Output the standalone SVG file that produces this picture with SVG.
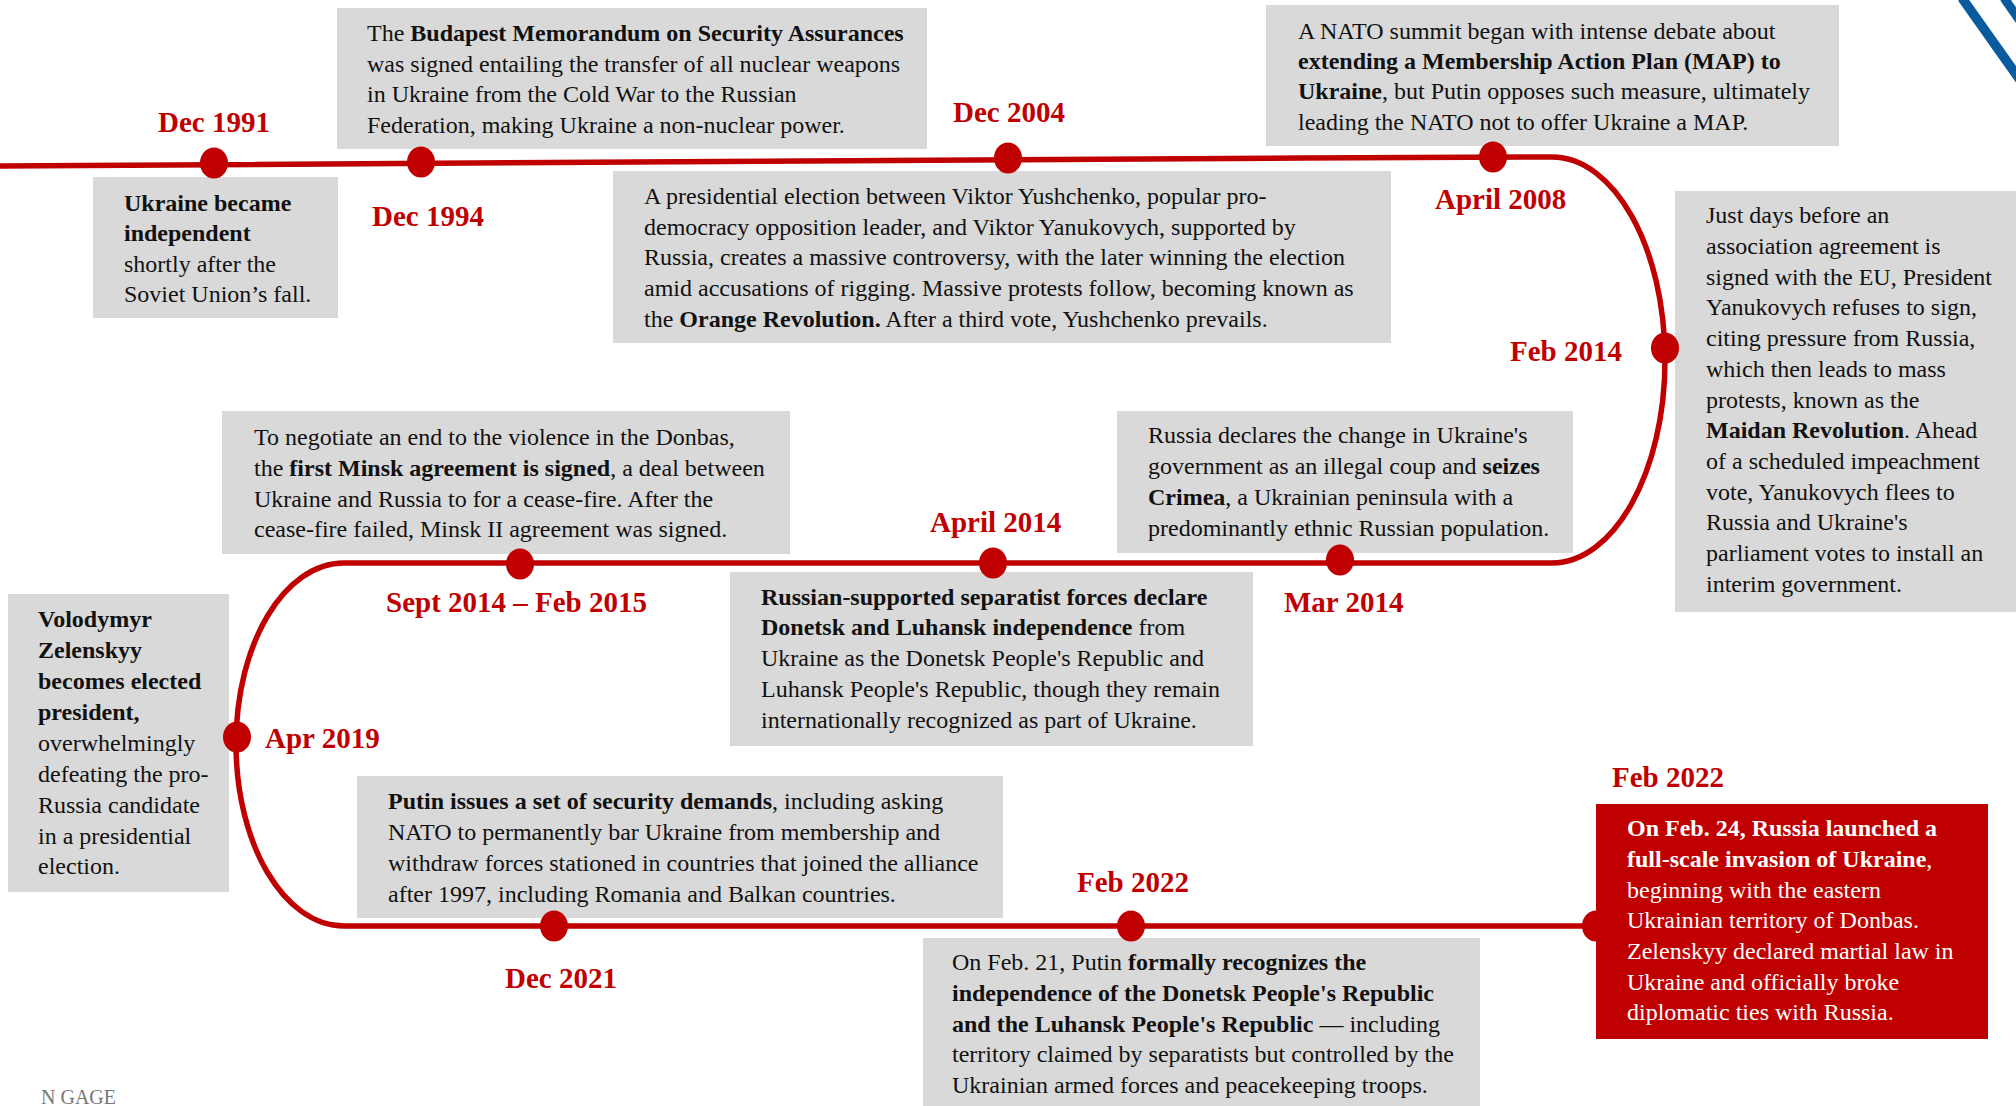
<svg xmlns="http://www.w3.org/2000/svg" width="2016" height="1106" viewBox="0 0 2016 1106">
<style>
.box{fill:#D9D9D9}
.red{fill:#C00000}
.t{font-family:"Liberation Serif","Times New Roman",serif;font-size:24px;fill:#111}
.w{font-family:"Liberation Serif","Times New Roman",serif;font-size:24px;fill:#fff}
.b{font-weight:bold}
.d{font-family:"Liberation Serif","Times New Roman",serif;font-size:29px;font-weight:bold;fill:#C00000}
.dot{fill:#C00000}
.line{fill:none;stroke:#C00000;stroke-width:5.5}
</style>
<rect width="2016" height="1106" fill="#fff"/>
<g id="decor">
<line x1="1962" y1="-2" x2="2020" y2="80" stroke="#0A5A9E" stroke-width="9.5"/>
<line x1="2004" y1="-2" x2="2030" y2="35" stroke="#0A5A9E" stroke-width="9"/>
<text x="41" y="1104" font-family="Liberation Serif, serif" font-size="20" fill="#777">N GAGE</text>
</g>
<g id="connectors">
<path class="line" d="M0,166 L1300,158 L1552,157 C1614,157 1665,247 1665,360 C1665,472 1614,563 1552,563 L344,563 C284,563 236,644 236,744 C236,844 284,926 344,926 L1596,926"/>
</g>
<g id="n-dec1991">
<rect class="box" x="93" y="177" width="245" height="141"/>
<text class="t"><tspan x="124" y="211" class="b">Ukraine became</tspan><tspan x="124" y="241" class="b">independent</tspan><tspan x="124" y="272">shortly after the</tspan><tspan x="124" y="302">Soviet Union’s fall.</tspan></text>
<text class="d" x="158" y="132">Dec 1991</text>
<ellipse class="dot" cx="214" cy="163" rx="14" ry="15.5"/>
</g>
<g id="n-dec1994">
<rect class="box" x="337" y="8" width="590" height="141"/>
<text class="t"><tspan x="367" y="41">The <tspan class="b">Budapest Memorandum on Security Assurances</tspan></tspan><tspan x="367" y="72">was signed entailing the transfer of all nuclear weapons</tspan><tspan x="367" y="102">in Ukraine from the Cold War to the Russian</tspan><tspan x="367" y="133">Federation, making Ukraine a non-nuclear power.</tspan></text>
<text class="d" x="372" y="226">Dec 1994</text>
<ellipse class="dot" cx="421" cy="162" rx="14" ry="15.5"/>
</g>
<g id="n-dec2004">
<rect class="box" x="613" y="171" width="778" height="172"/>
<text class="t"><tspan x="644" y="204">A presidential election between Viktor Yushchenko, popular pro-</tspan><tspan x="644" y="235">democracy opposition leader, and Viktor Yanukovych, supported by</tspan><tspan x="644" y="265">Russia, creates a massive controversy, with the later winning the election</tspan><tspan x="644" y="296">amid accusations of rigging. Massive protests follow, becoming known as</tspan><tspan x="644" y="327">the <tspan class="b">Orange Revolution.</tspan> After a third vote, Yushchenko prevails.</tspan></text>
<text class="d" x="953" y="122">Dec 2004</text>
<ellipse class="dot" cx="1008" cy="158" rx="14" ry="15.5"/>
</g>
<g id="n-apr2008">
<rect class="box" x="1266" y="5" width="573" height="141"/>
<text class="t"><tspan x="1298" y="39">A NATO summit began with intense debate about</tspan><tspan x="1298" y="69" class="b">extending a Membership Action Plan (MAP) to</tspan><tspan x="1298" y="99"><tspan class="b">Ukraine</tspan>, but Putin opposes such measure, ultimately</tspan><tspan x="1298" y="130">leading the NATO not to offer Ukraine a MAP.</tspan></text>
<text class="d" x="1435" y="209">April 2008</text>
<ellipse class="dot" cx="1493" cy="157" rx="14" ry="15.5"/>
</g>
<g id="n-feb2014">
<rect class="box" x="1675" y="191" width="341" height="421"/>
<text class="t"><tspan x="1706" y="223">Just days before an</tspan><tspan x="1706" y="254">association agreement is</tspan><tspan x="1706" y="285">signed with the EU, President</tspan><tspan x="1706" y="315">Yanukovych refuses to sign,</tspan><tspan x="1706" y="346">citing pressure from Russia,</tspan><tspan x="1706" y="377">which then leads to mass</tspan><tspan x="1706" y="408">protests, known as the</tspan><tspan x="1706" y="438"><tspan class="b">Maidan Revolution</tspan>. Ahead</tspan><tspan x="1706" y="469">of a scheduled impeachment</tspan><tspan x="1706" y="500">vote, Yanukovych flees to</tspan><tspan x="1706" y="530">Russia and Ukraine's</tspan><tspan x="1706" y="561">parliament votes to install an</tspan><tspan x="1706" y="592">interim government.</tspan></text>
<text class="d" x="1510" y="361">Feb 2014</text>
<ellipse class="dot" cx="1665" cy="348" rx="14" ry="15.5"/>
</g>
<g id="n-mar2014">
<rect class="box" x="1117" y="411" width="456" height="142"/>
<text class="t"><tspan x="1148" y="443">Russia declares the change in Ukraine's</tspan><tspan x="1148" y="474">government as an illegal coup and <tspan class="b">seizes</tspan></tspan><tspan x="1148" y="505"><tspan class="b">Crimea</tspan>, a Ukrainian peninsula with a</tspan><tspan x="1148" y="536">predominantly ethnic Russian population.</tspan></text>
<text class="d" x="1284" y="612">Mar 2014</text>
<ellipse class="dot" cx="1340" cy="560" rx="14" ry="15.5"/>
</g>
<g id="n-apr2014">
<rect class="box" x="730" y="572" width="523" height="174"/>
<text class="t"><tspan x="761" y="605" class="b">Russian-supported separatist forces declare</tspan><tspan x="761" y="635"><tspan class="b">Donetsk and Luhansk independence</tspan> from</tspan><tspan x="761" y="666">Ukraine as the Donetsk People's Republic and</tspan><tspan x="761" y="697">Luhansk People's Republic, though they remain</tspan><tspan x="761" y="728">internationally recognized as part of Ukraine.</tspan></text>
<text class="d" x="930" y="532">April 2014</text>
<ellipse class="dot" cx="993" cy="563" rx="14" ry="15.5"/>
</g>
<g id="n-sep2014">
<rect class="box" x="222" y="411" width="568" height="143"/>
<text class="t"><tspan x="254" y="445">To negotiate an end to the violence in the Donbas,</tspan><tspan x="254" y="476">the <tspan class="b">first Minsk agreement is signed</tspan>, a deal between</tspan><tspan x="254" y="507">Ukraine and Russia to for a cease-fire. After the</tspan><tspan x="254" y="537">cease-fire failed, Minsk II agreement was signed.</tspan></text>
<text class="d" x="386" y="612">Sept 2014 – Feb 2015</text>
<ellipse class="dot" cx="520" cy="564" rx="14" ry="15.5"/>
</g>
<g id="n-apr2019">
<rect class="box" x="8" y="594" width="221" height="298"/>
<text class="t"><tspan x="38" y="627" class="b">Volodymyr</tspan><tspan x="38" y="658" class="b">Zelenskyy</tspan><tspan x="38" y="689" class="b">becomes elected</tspan><tspan x="38" y="720" class="b">president,</tspan><tspan x="38" y="751">overwhelmingly</tspan><tspan x="38" y="782">defeating the pro-</tspan><tspan x="38" y="813">Russia candidate</tspan><tspan x="38" y="844">in a presidential</tspan><tspan x="38" y="874">election.</tspan></text>
<text class="d" x="265" y="748">Apr 2019</text>
<ellipse class="dot" cx="237" cy="737" rx="14" ry="15.5"/>
</g>
<g id="n-dec2021">
<rect class="box" x="357" y="776" width="646" height="142"/>
<text class="t"><tspan x="388" y="809"><tspan class="b">Putin issues a set of security demands</tspan>, including asking</tspan><tspan x="388" y="840">NATO to permanently bar Ukraine from membership and</tspan><tspan x="388" y="871">withdraw forces stationed in countries that joined the alliance</tspan><tspan x="388" y="902">after 1997, including Romania and Balkan countries.</tspan></text>
<text class="d" x="505" y="988">Dec 2021</text>
<ellipse class="dot" cx="554" cy="926" rx="14" ry="15.5"/>
</g>
<g id="n-feb2022a">
<rect class="box" x="923" y="938" width="557" height="170"/>
<text class="t"><tspan x="952" y="970">On Feb. 21, Putin <tspan class="b">formally recognizes the</tspan></tspan><tspan x="952" y="1001" class="b">independence of the Donetsk People's Republic</tspan><tspan x="952" y="1032"><tspan class="b">and the Luhansk People's Republic</tspan> — including</tspan><tspan x="952" y="1062">territory claimed by separatists but controlled by the</tspan><tspan x="952" y="1093">Ukrainian armed forces and peacekeeping troops.</tspan></text>
<text class="d" x="1077" y="892">Feb 2022</text>
<ellipse class="dot" cx="1131" cy="926" rx="14" ry="15.5"/>
</g>
<g id="n-feb2022b">
<ellipse class="dot" cx="1596" cy="926" rx="14" ry="15.5"/>
<rect class="red" x="1596" y="804" width="392" height="235"/>
<text class="w"><tspan x="1627" y="836" class="b">On Feb. 24, Russia launched a</tspan><tspan x="1627" y="867"><tspan class="b">full-scale invasion of Ukraine</tspan>,</tspan><tspan x="1627" y="898">beginning with the eastern</tspan><tspan x="1627" y="928">Ukrainian territory of Donbas.</tspan><tspan x="1627" y="959">Zelenskyy declared martial law in</tspan><tspan x="1627" y="990">Ukraine and officially broke</tspan><tspan x="1627" y="1020">diplomatic ties with Russia.</tspan></text>
<text class="d" x="1612" y="787">Feb 2022</text>
</g>
</svg>
